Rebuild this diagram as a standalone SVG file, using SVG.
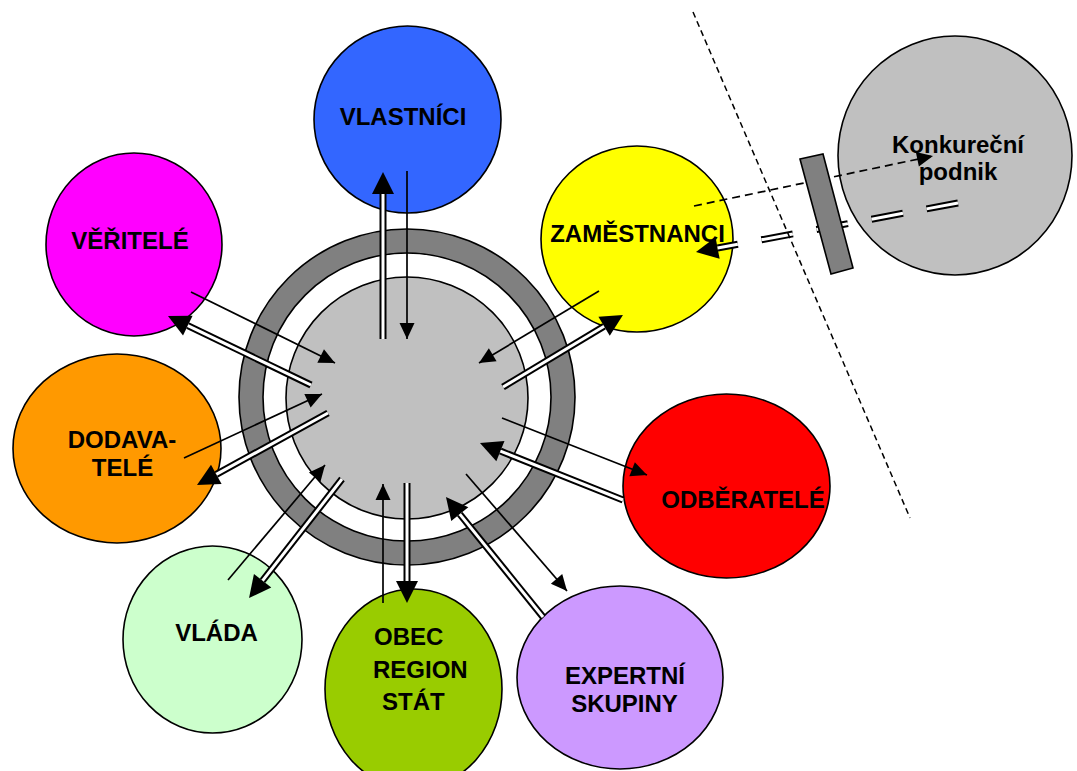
<svg xmlns="http://www.w3.org/2000/svg" width="1077" height="771" viewBox="0 0 1077 771">
<style>
.node{stroke:#000;stroke-width:1.6}
.lbl{font-family:"Liberation Sans",Arial,sans-serif;font-weight:bold;font-size:24px;fill:#000}
.c{text-anchor:middle}
.single{stroke:#000;stroke-width:1.7;fill:none;marker-end:url(#hs)}
.dbo{stroke:#000;stroke-width:7;fill:none;marker-end:url(#hd)}
.dbi{stroke:#fff;stroke-width:3;fill:none}
</style>
<defs>
<marker id="hs" markerUnits="userSpaceOnUse" markerWidth="17" markerHeight="16" refX="16" refY="7.5" orient="auto" overflow="visible"><path d="M0,0 L16,7.5 L0,15 z" fill="#000"/></marker>
<marker id="hd" markerUnits="userSpaceOnUse" markerWidth="23" markerHeight="23" refX="0" refY="11" orient="auto" overflow="visible"><path d="M0,0 L22,11 L0,22 z" fill="#000"/></marker>
</defs>
<rect width="1077" height="771" fill="#fff"/>
<g id="center">
<circle class="node" cx="407" cy="397" r="168" fill="#808080"/>
<circle class="node" cx="407" cy="397" r="144" fill="#fff"/>
<circle class="node" cx="407" cy="398" r="121" fill="#c0c0c0"/>
</g>
<g id="vlastnici"><ellipse class="node" cx="407.5" cy="119.5" rx="93.5" ry="93.5" fill="#3366ff"/><text class="lbl c" x="403" y="125">VLASTNÍCI</text></g>
<g id="veritele"><ellipse class="node" cx="134" cy="244.5" rx="88" ry="91.5" fill="#ff00ff"/><text class="lbl c" x="130" y="249">VĚŘITELÉ</text></g>
<g id="zamestnanci"><ellipse class="node" cx="637" cy="239" rx="96" ry="93" fill="#ffff00"/><text class="lbl c" x="637.5" y="242">ZAMĚSTNANCI</text></g>
<g id="konkurecni"><ellipse class="node" cx="955" cy="155.5" rx="117" ry="119.5" fill="#c0c0c0"/><text class="lbl c" x="958" y="153">Konkureční</text><text class="lbl c" x="958" y="180">podnik</text></g>
<g id="dodavatele"><ellipse class="node" cx="117" cy="448.5" rx="104" ry="94.5" fill="#ff9900"/><text class="lbl c" x="122" y="448">DODAVA-</text><text class="lbl c" x="122.5" y="476">TELÉ</text></g>
<g id="odberatele"><ellipse class="node" cx="726.5" cy="486" rx="103.5" ry="92" fill="#ff0000"/><text class="lbl c" x="743" y="508">ODBĚRATELÉ</text></g>
<g id="vlada"><ellipse class="node" cx="212.5" cy="639.5" rx="89.5" ry="93.5" fill="#ccffcc"/><text class="lbl c" x="216.5" y="641">VLÁDA</text></g>
<g id="obec"><ellipse class="node" cx="413.5" cy="689" rx="88.5" ry="100" fill="#99cc00"/><text class="lbl" x="374" y="645">OBEC</text><text class="lbl" x="373" y="678">REGION</text><text class="lbl" x="382" y="710">STÁT</text></g>
<g id="expertni"><ellipse class="node" cx="620" cy="677.5" rx="103" ry="91.5" fill="#cc99ff"/><text class="lbl c" x="625" y="684">EXPERTNÍ</text><text class="lbl c" x="624.5" y="712">SKUPINY</text></g>
<g id="connectors">
<line class="single" x1="407" y1="171" x2="407" y2="339"/>
<line class="single" x1="599" y1="291" x2="479" y2="363"/>
<line class="single" x1="191" y1="292" x2="335" y2="363"/>
<line class="single" x1="184" y1="458" x2="322" y2="394"/>
<line class="single" x1="228" y1="580" x2="325" y2="465"/>
<line class="single" x1="383" y1="603" x2="383" y2="484"/>
<line class="single" x1="466" y1="474" x2="567" y2="591"/>
<line class="single" x1="502" y1="418" x2="647" y2="475"/>
<line class="dbo" x1="383" y1="339" x2="383" y2="194"/><line class="dbi" x1="383" y1="339" x2="383" y2="194"/>
<line class="dbo" x1="503" y1="387" x2="604.1" y2="326.3"/><line class="dbi" x1="503" y1="387" x2="604.1" y2="326.3"/>
<line class="dbo" x1="311" y1="385" x2="187.8" y2="325.6"/><line class="dbi" x1="311" y1="385" x2="187.8" y2="325.6"/>
<line class="dbo" x1="328" y1="413" x2="216.3" y2="474.4"/><line class="dbi" x1="328" y1="413" x2="216.3" y2="474.4"/>
<line class="dbo" x1="342" y1="479" x2="262.6" y2="580.7"/><line class="dbi" x1="342" y1="479" x2="262.6" y2="580.7"/>
<line class="dbo" x1="407" y1="483" x2="407" y2="581"/><line class="dbi" x1="407" y1="483" x2="407" y2="581"/>
<line class="dbo" x1="543" y1="617" x2="459.8" y2="514.1"/><line class="dbi" x1="543" y1="617" x2="459.8" y2="514.1"/>
<line class="dbo" x1="623" y1="500" x2="500.4" y2="451.1"/><line class="dbi" x1="623" y1="500" x2="500.4" y2="451.1"/>
<line class="dbo" x1="958" y1="203" x2="717.6" y2="248" stroke-dasharray="32 24"/><line class="dbi" x1="958" y1="203" x2="717.6" y2="248" stroke-dasharray="32 24"/>
<line class="single" x1="694" y1="206" x2="933" y2="156" stroke-width="2" stroke-dasharray="8 5"/>
</g>
<g id="boundary"><line x1="693" y1="12" x2="910" y2="518" stroke="#000" stroke-width="1.5" stroke-dasharray="6 4"/></g>
<g id="barrier"><polygon points="800,159 823,154 853,268 831,274" fill="#808080" stroke="#000" stroke-width="1.6"/></g>
</svg>
